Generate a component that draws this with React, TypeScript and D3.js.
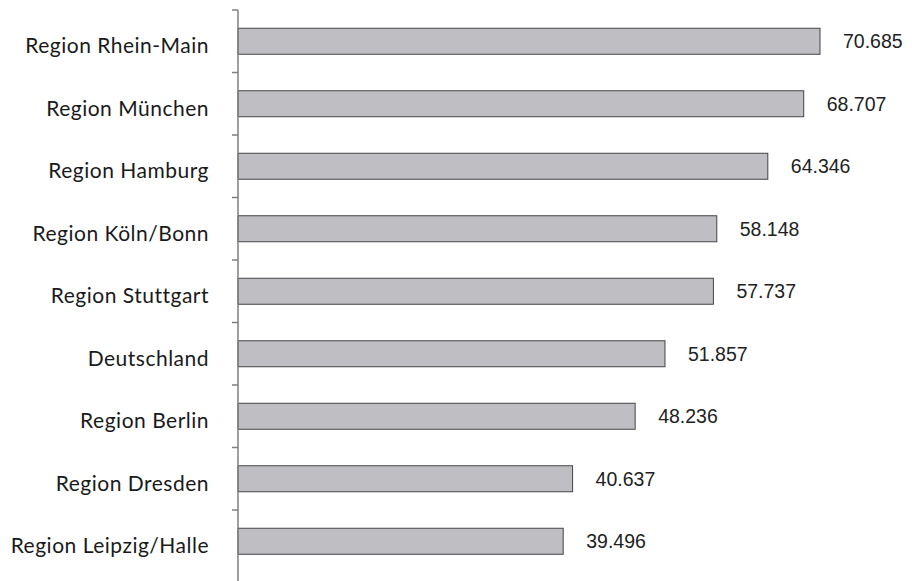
import React, { useEffect, useRef } from "react";
import * as d3 from "d3";

const regions = [
  "Region Rhein-Main",
  "Region München",
  "Region Hamburg",
  "Region Köln/Bonn",
  "Region Stuttgart",
  "Deutschland",
  "Region Berlin",
  "Region Dresden",
  "Region Leipzig/Halle",
];
const values = [70.685, 68.707, 64.346, 58.148, 57.737, 51.857, 48.236, 40.637, 39.496];
const valueLabels = ["70.685", "68.707", "64.346", "58.148", "57.737", "51.857", "48.236", "40.637", "39.496"];

const App = () => {
  const ref = useRef<SVGSVGElement>(null);

  useEffect(() => {
    const height = 581;
    const left = 238;
    const barH = 26;

    const svg = d3.select(ref.current);
    svg.selectAll("*").remove();

    // scales
    const x = d3.scaleLinear().domain([0, 70.685]).range([left, 820]);
    const y = d3.scaleBand().domain(regions).range([10, 572.5]).padding(0);
    const bw = y.bandwidth();

    // bars
    svg
      .append("g")
      .selectAll("rect")
      .data(regions)
      .enter()
      .append("rect")
      .attr("x", x(0))
      .attr("y", (d) => y(d)! + (bw - barH) / 2)
      .attr("width", (d, i) => x(values[i]) - x(0))
      .attr("height", barH)
      .attr("fill", "#bfbfc3")
      .attr("stroke", "#444")
      .attr("stroke-width", 1);

    // value labels
    svg
      .append("g")
      .selectAll("text")
      .data(regions)
      .enter()
      .append("text")
      .attr("x", (d, i) => x(values[i]) + 23)
      .attr("y", (d) => y(d)! + bw / 2 + 7)
      .attr("font-family", "'Liberation Sans', Arial, sans-serif")
      .attr("font-size", 19.5)
      .attr("fill", "#222")
      .text((d, i) => valueLabels[i]);

    // category labels
    svg
      .append("g")
      .selectAll("text")
      .data(regions)
      .enter()
      .append("text")
      .attr("x", 209)
      .attr("y", (d) => y(d)! + bw / 2 + 12)
      .attr("text-anchor", "end")
      .attr("font-family", "Lato, sans-serif")
      .attr("font-size", 21)
      .attr("letter-spacing", 0.5)
      .attr("fill", "#1a1a1a")
      .text((d) => d);

    // axis line + ticks
    const axis = svg.append("g").attr("stroke", "#808080").attr("stroke-width", 1.5);
    axis.append("line").attr("x1", left).attr("x2", left).attr("y1", 10).attr("y2", height);
    axis
      .selectAll("line.tick")
      .data(regions)
      .enter()
      .append("line")
      .attr("class", "tick")
      .attr("x1", left - 6)
      .attr("x2", left)
      .attr("y1", (d) => y(d)!)
      .attr("y2", (d) => y(d)!);
  }, []);

  return (
    <svg
      ref={ref}
      width={912}
      height={581}
      style={{ position: "absolute", left: 0, top: 0, background: "#fff" }}
    />
  );
};

export default App;
